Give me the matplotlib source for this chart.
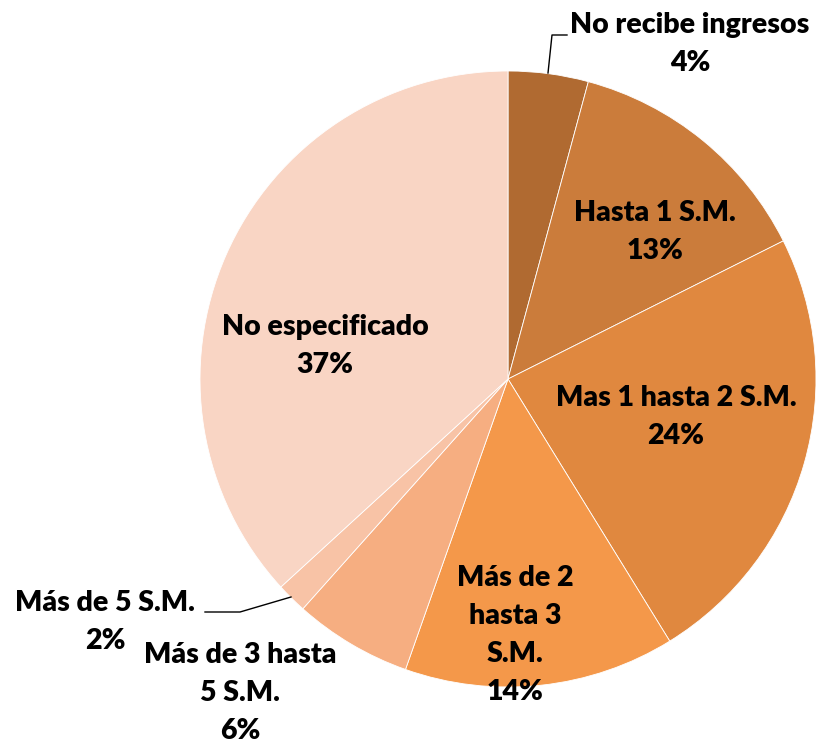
import matplotlib.pyplot as plt

# data
categorias = ["No recibe ingresos", "Hasta 1 S.M.", "Mas 1 hasta 2 S.M.",
              "Más de 2\nhasta 3\nS.M.", "Más de 3 hasta\n5 S.M.", "Más de 5 S.M.",
              "No especificado"]
valores = [4.2, 13.4, 23.6, 14.2, 6.2, 1.6, 36.8]
colores = ["#B06A31", "#CB7C3B", "#E0883F", "#F4984A", "#F6AE81", "#F8C3A6", "#F9D5C4"]

fig = plt.figure(figsize=(8.17, 7.47), dpi=100)
ax = fig.add_axes([0, 0, 1, 1])

cx, cy, r = 508, 747 - 379, 308
ax.pie(valores, colors=colores, startangle=90, counterclock=False,
       center=(cx, cy), radius=r, frame=True,
       wedgeprops=dict(edgecolor="white", linewidth=0.6))
ax.set_xlim(0, 817)
ax.set_ylim(0, 747)
ax.axis("off")

fuente = dict(family=["Lato", "DejaVu Sans"], fontweight="heavy", fontsize=20.5,
              ha="center", va="center", linespacing=1.58, color="black")

# label positions (pixels, y from top)
pos = [(690, 44), (655, 232), (676, 417), (515, 635), (240, 693), (105, 622), (325, 346)]
for cat, v, (x, y) in zip(categorias, valores, pos):
    ax.text(x, 747 - y, f"{cat}\n{v:.0f}%", **fuente)

# leader lines
ax.plot([548, 552, 567], [747 - 73, 747 - 35, 747 - 35], color="black", lw=1)
ax.plot([291, 240, 205], [747 - 597, 747 - 612, 747 - 612], color="black", lw=1)

fig.savefig("out.png", dpi=100)
